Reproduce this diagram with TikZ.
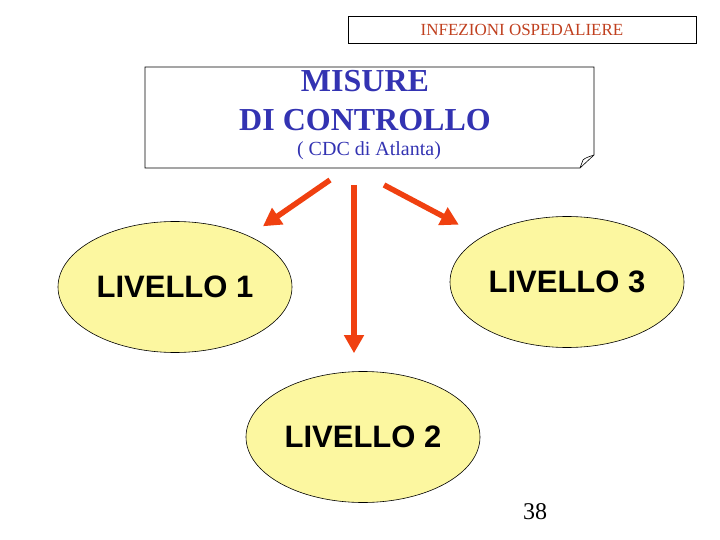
\documentclass[tikz,border=0pt]{standalone}
\usepackage{fontspec}
\setmainfont{Liberation Serif}
\newfontfamily\arialfont{Liberation Sans}
\usepackage{xcolor}
\usepackage{tikz}
\usetikzlibrary{
    positioning,
    arrows.meta,
    shapes.geometric,
}
\definecolor{titlered}{RGB}{192,64,31}
\definecolor{boxblue}{RGB}{51,51,178}
\definecolor{levelfill}{RGB}{252,247,160}
\definecolor{arrowred}{RGB}{240,64,16}
\tikzset{
    % Box styles
    title box/.style={rectangle, draw, line width=0.8pt, minimum width=348pt,
                      minimum height=27pt, inner sep=0pt, text=titlered,
                      font=\fontsize{17}{19}\selectfont},
    % Level styles
    level/.style={ellipse, draw, line width=0.6pt, fill=levelfill,
                  minimum width=234pt, minimum height=131pt, inner sep=0pt,
                  font=\arialfont\bfseries\fontsize{31}{34}\selectfont},
    % Arrow styles
    arrow/.style={-{Triangle[length=18pt, width=19pt]}, line width=5.5pt,
                  arrowred},
}

\begin{document}
\begin{tikzpicture}[x=1pt, y=-1pt,
    heading/.style={text=boxblue, font=\bfseries\fontsize{32}{35}\selectfont},
]
    \useasboundingbox (0,0) rectangle (720,540);

    % Title
    \node[title box] (title) at (522, 29.5) {INFEZIONI OSPEDALIERE};

    % Main box with folded corner
    \draw[line width=0.6pt] (145,67) -- (594,67) -- (594,155)
        -- (580,168) -- (145,168) -- cycle;
    \draw[line width=0.6pt] (594,155) .. controls (588,157) and (585,158) .. (583,160)
        -- (580,168);
    \node[heading] (misure) at (365, 81) {MISURE};
    \node[heading] (controllo) at (365, 120) {DI CONTROLLO};
    \node[text=boxblue, font=\fontsize{20}{22}\selectfont] (cdc) at (369, 151) {( CDC di Atlanta)};

    % Levels
    \node[level] (liv1) at (175, 287) {LIVELLO 1};
    \node[level] (liv3) at (567, 282) {LIVELLO 3};
    \node[level] (liv2) at (363, 437) {LIVELLO 2};

    % Arrows
    \coordinate (a1) at (330, 180);
    \coordinate (a2) at (354, 185);
    \coordinate (a3) at (384, 185);
    \draw[arrow, shorten >=17pt] (a1) -- (liv1);
    \draw[arrow, shorten >=18pt] (a2) -- (liv2.north -| a2);
    \draw[arrow, shorten >=26pt] (a3) -- (liv3);

    % Page number
    \node[font=\fontsize{24}{26}\selectfont] (page) at (535, 512) {38};
\end{tikzpicture}
\end{document}
